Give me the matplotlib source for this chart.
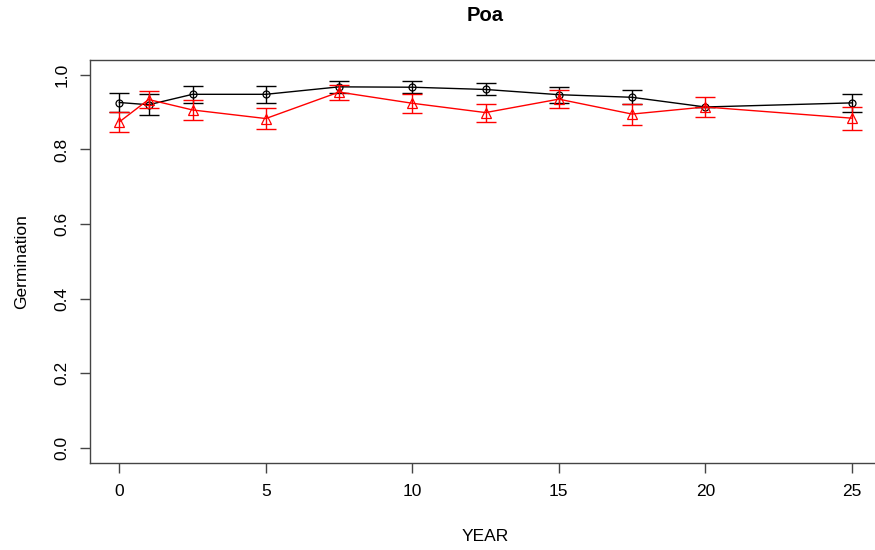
import numpy as np
import matplotlib
matplotlib.use("Agg")
import matplotlib.pyplot as plt

# ==========================================
# DATA
# ==========================================

YEARS = [0, 1, 2.5, 5, 7.5, 10, 12.5, 15, 17.5, 20, 25]

control_mean = [0.926, 0.920, 0.948, 0.948, 0.968, 0.967, 0.961, 0.947, 0.940, 0.914, 0.925]
control_se = [0.025, 0.028, 0.023, 0.023, 0.016, 0.016, 0.016, 0.021, 0.019, 0.0, 0.025]

treat_mean = [0.874, 0.934, 0.906, 0.883, 0.954, 0.924, 0.899, 0.935, 0.895, 0.914, 0.884]
treat_se = [0.027, 0.024, 0.028, 0.029, 0.020, 0.026, 0.024, 0.025, 0.028, 0.028, 0.031]

Y_TICKS = [0.0, 0.2, 0.4, 0.6, 0.8, 1.0]
X_TICKS = [0, 5, 10, 15, 20, 25]

plt.rcParams["font.family"] = ["Liberation Sans", "DejaVu Sans"]

# ==========================================
# PLOT
# ==========================================

fig = plt.figure(figsize=(8.75, 5.5), dpi=100)
ax = fig.add_axes([0.1029, 0.1587, 0.904, 0.7322])

ax.plot(YEARS, control_mean, color="black", lw=1, marker="o", ms=5,
        mfc="none", mec="black", mew=0.9, zorder=3)
ax.errorbar(YEARS, control_mean, yerr=control_se, fmt="none", ecolor="black",
            elinewidth=1, capsize=7.5, capthick=1, zorder=3)

ax.plot(YEARS, treat_mean, color="red", lw=1, marker="^", ms=7,
        mfc="none", mec="red", mew=0.9, zorder=4)
ax.errorbar(YEARS, treat_mean, yerr=treat_se, fmt="none", ecolor="red",
            elinewidth=1, capsize=7.5, capthick=1, zorder=4)

ax.set_xlim(-1, 26)
ax.set_ylim(-0.04, 1.04)
ax.set_xticks(X_TICKS)
ax.set_yticks(Y_TICKS)
ax.set_xticklabels([str(t) for t in X_TICKS], fontsize=12.5)
ax.set_yticklabels(["%.1f" % t for t in Y_TICKS], fontsize=12.5,
                   rotation=90, va="center")
ax.tick_params(length=7, width=1, color="#444444", pad=8)

for side in ax.spines.values():
    side.set_color("#444444")
    side.set_linewidth(1)

ax.set_xlabel("YEAR", fontsize=12.5, labelpad=22)
ax.set_ylabel("Germination", fontsize=12.5, labelpad=18)
ax.set_title("Poa", fontsize=14.5, fontweight="bold", pad=28)

plt.savefig("out.png", dpi=100)
